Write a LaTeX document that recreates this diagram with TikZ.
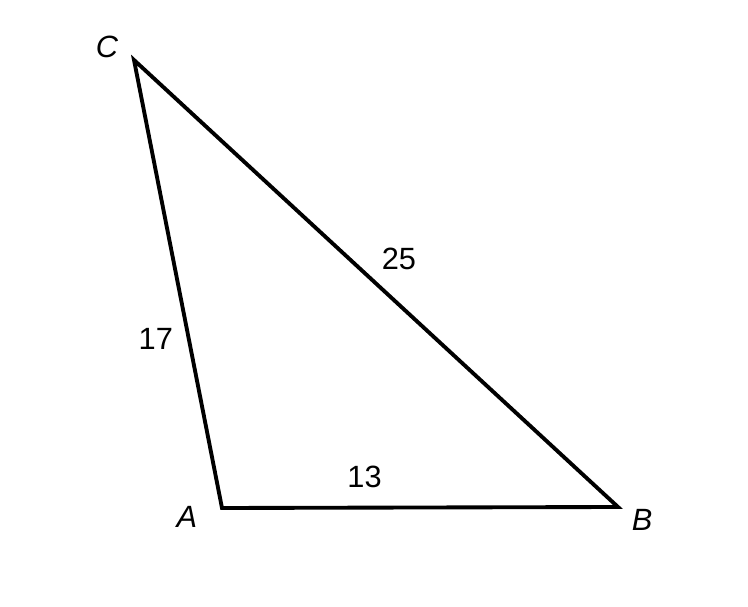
\documentclass[tikz,border=0pt]{standalone}
\usepackage{fontspec}
\setmainfont{Liberation Sans}
\usetikzlibrary{calc}

\begin{document}
\begin{tikzpicture}[x=0.02cm,y=0.02cm,font=\fontsize{17.5}{21}\selectfont]
\useasboundingbox (0,0) rectangle (748,606);
\draw[line width=2.2pt] (222,98)coordinate (A)--(618,99)coordinate (B)--(134,546)coordinate (C)--cycle;
\node (lC) at ($(C)+(-27,13)$) {\textit{C}};
\node (lA) at ($(A)+(-35,-9)$) {\textit{A}};
\node (lB) at ($(B)+(24,-13)$) {\textit{B}};
\node (sAC) at ($(A)!0.377!(C)+(-33,0)$) {17};
\node (sCB) at ($(C)!0.5475!(B)+(0,46)$) {25};
\node (sAB) at ($(A)!0.36!(B)+(0,31)$) {13};
\end{tikzpicture}
\end{document}
